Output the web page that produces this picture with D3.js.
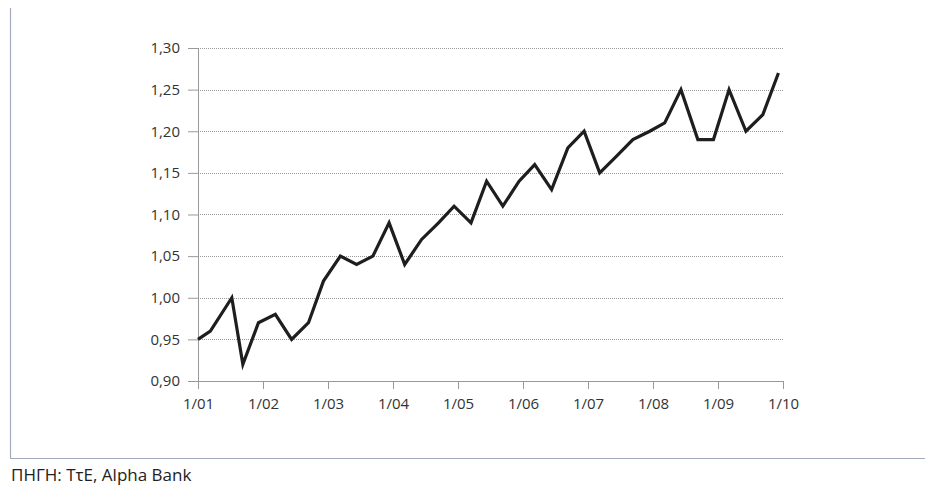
<!DOCTYPE html>
<meta charset="utf-8">
<style>
body { margin: 0; background: #fff; }
text { font-family: "Open Sans", sans-serif; fill: #333; }
</style>
<body>
<script src="https://d3js.org/d3.v7.min.js"></script>
<script>

let period = [2001.00, 2001.19, 2001.52, 2001.69, 2001.93, 2002.19, 2002.44, 2002.70,
	2002.93, 2003.19, 2003.44, 2003.69, 2003.94, 2004.18, 2004.44, 2004.70,
	2004.94, 2005.20, 2005.44, 2005.69, 2005.94, 2006.18, 2006.44, 2006.69,
	2006.94, 2007.18, 2007.44, 2007.69, 2007.95, 2008.18, 2008.43, 2008.69,
	2008.93, 2009.17, 2009.43, 2009.69, 2009.93];
let rate = [0.95, 0.96, 1.00, 0.92, 0.97, 0.98, 0.95, 0.97,
	1.02, 1.05, 1.04, 1.05, 1.09, 1.04, 1.07, 1.09,
	1.11, 1.09, 1.14, 1.11, 1.14, 1.16, 1.13, 1.18,
	1.20, 1.15, 1.17, 1.19, 1.20, 1.21, 1.25, 1.19,
	1.19, 1.25, 1.20, 1.22, 1.27];
let xTickYears = [2001, 2002, 2003, 2004, 2005, 2006, 2007, 2008, 2009, 2010];
let xTickLabels = ['1/01', '1/02', '1/03', '1/04', '1/05', '1/06', '1/07', '1/08', '1/09', '1/10'];
let yTicks = [0.90, 0.95, 1.00, 1.05, 1.10, 1.15, 1.20, 1.25, 1.30];
let source = 'ΠΗΓΗ: ΤτΕ, Alpha Bank';

let width = 925;
let height = 490;
let plot = {left: 198, right: 783, top: 48, bottom: 381};

let greek = d3.formatLocale({decimal: ',', thousands: '.', grouping: [3], currency: ['', '€']});
let fmt = greek.format('.2f');

let svg = d3.select('body').append('svg')
	.attr('width', width)
	.attr('height', height);

// frame lines of the figure box
svg.append('line')
	.attr('x1', 10.5).attr('x2', 10.5)
	.attr('y1', 8).attr('y2', 458)
	.attr('stroke', '#a3abbb').attr('stroke-width', 1.2);
svg.append('line')
	.attr('x1', 10).attr('x2', width)
	.attr('y1', 458.5).attr('y2', 458.5)
	.attr('stroke', '#a3abbb').attr('stroke-width', 1.2);

svg.append('text')
	.attr('x', 11)
	.attr('y', 481)
	.style('font-size', '17px')
	.style('fill', '#222')
	.text(source);

let x = d3.scaleLinear()
	.domain([2001, 2010])
	.range([plot.left, plot.right]);

let y = d3.scaleLinear()
	.domain([0.90, 1.30])
	.range([plot.bottom, plot.top]);

// dotted grid
svg.append('g')
	.selectAll('line')
	.data(yTicks.filter(d => d > 0.9))
	.enter().append('line')
	.attr('x1', plot.left).attr('x2', plot.right)
	.attr('y1', d => Math.round(y(d)) + 0.5)
	.attr('y2', d => Math.round(y(d)) + 0.5)
	.attr('stroke', '#999')
	.attr('stroke-width', 1)
	.attr('stroke-dasharray', '1,1');

let yAxis = d3.axisLeft(y)
	.tickValues(yTicks)
	.tickFormat(fmt)
	.tickSize(10)
	.tickSizeOuter(0)
	.tickPadding(8);

let xAxis = d3.axisBottom(x)
	.tickValues(xTickYears)
	.tickFormat((d, i) => xTickLabels[i])
	.tickSize(8)
	.tickSizeOuter(0)
	.tickPadding(9);

let gy = svg.append('g')
	.attr('transform', 'translate(' + plot.left + ',0)')
	.call(yAxis);
let gx = svg.append('g')
	.attr('transform', 'translate(0,' + plot.bottom + ')')
	.call(xAxis);

[gx, gy].forEach(g => {
	g.select('.domain').attr('stroke', '#999');
	g.selectAll('.tick line').attr('stroke', '#999');
	g.selectAll('.tick text')
		.style('font-family', '"Open Sans", sans-serif')
		.style('font-size', '15px')
		.attr('fill', '#333');
});

let line = d3.line()
	.x((d, i) => x(period[i]))
	.y(d => y(d));

svg.append('path')
	.datum(rate)
	.attr('d', line)
	.attr('fill', 'none')
	.attr('stroke', '#1e1e1e')
	.attr('stroke-width', 3.2)
	.attr('stroke-linejoin', 'miter');

</script>
</body>
